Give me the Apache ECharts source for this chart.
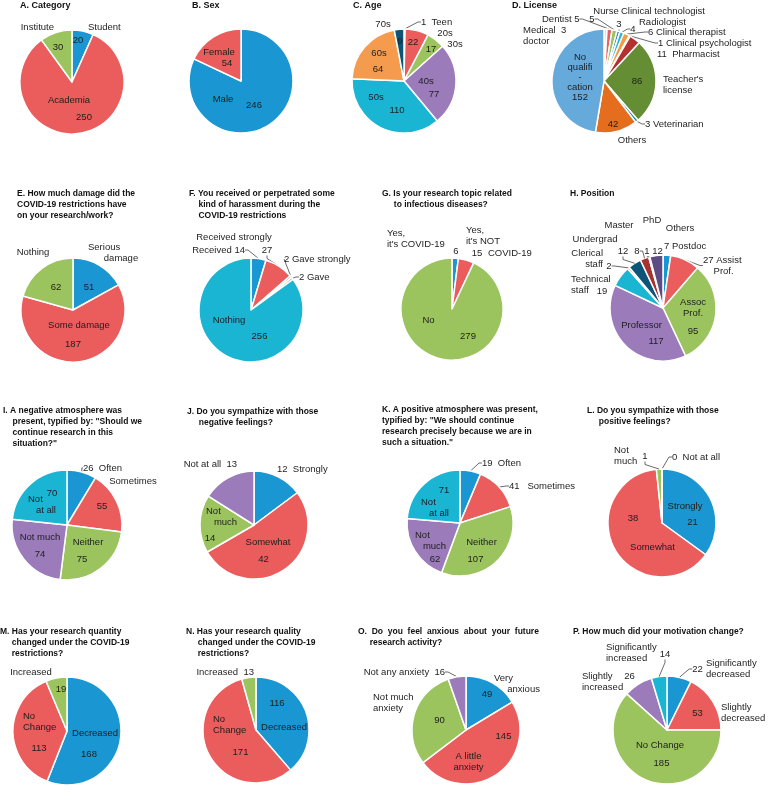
<!DOCTYPE html>
<html>
<head>
<meta charset="utf-8">
<script src="https://cdn.jsdelivr.net/npm/echarts@6/dist/echarts.min.js"></script>
<style>
  html, body { margin: 0; padding: 0; background: #fff; }
  #chart { width: 769px; height: 804px; }
</style>
</head>
<body>
<div id="chart"></div>
<script>
// survey answers, one pair of arrays per panel (clockwise from 12 o'clock)
const categoryNames = ['Student', 'Academia', 'Institute'];
const categoryCounts = [20, 250, 30];
const sexNames = ['Male', 'Female'];
const sexCounts = [246, 54];
const ageNames = ['Teen', '20s', '30s', '40s', '50s', '60s', '70s'];
const ageCounts = [1, 22, 17, 77, 110, 64, 9];
const licenseNames = ['Medical\ndoctor', 'Dentist', 'Nurse', 'Clinical technologist', 'Radiologist',
  'Clinical therapist', 'Clinical psychologist', 'Pharmacist', "Teacher's\nlicense", 'Veterinarian',
  'Others', 'No\nqualifi\n-\ncation'];
const licenseCounts = [3, 5, 5, 3, 4, 6, 1, 11, 86, 3, 42, 152];
const damageNames = ['Serious\ndamage', 'Some damage', 'Nothing'];
const damageCounts = [51, 187, 62];
const harassNames = ['Received', 'Received strongly', 'Gave strongly', 'Gave', 'Nothing'];
const harassCounts = [14, 27, 2, 2, 256];
const infectNames = ["Yes,\nit's COVID-19", "Yes,\nit's NOT\nCOVID-19", 'No'];
const infectCounts = [6, 15, 279];
const positionNames = ['Postdoc', 'Assist\nProf.', 'Assoc\nProf.', 'Professor', 'Technical\nstaff',
  'Clerical\nstaff', 'Undergrad', 'Master', 'PhD', 'Others'];
const positionCounts = [7, 27, 95, 117, 19, 2, 12, 8, 1, 12];
const negAtmosNames = ['Often', 'Sometimes', 'Neither', 'Not much', 'Not\nat all'];
const negAtmosCounts = [26, 55, 75, 74, 70];
const negSympNames = ['Strongly', 'Somewhat', 'Not\nmuch', 'Not at all'];
const negSympCounts = [12, 42, 14, 13];
const posAtmosNames = ['Often', 'Sometimes', 'Neither', 'Not\nmuch', 'Not\nat all'];
const posAtmosCounts = [19, 41, 107, 62, 71];
const posSympNames = ['Strongly', 'Somewhat', 'Not\nmuch', 'Not at all'];
const posSympCounts = [21, 38, 1, 0];
const quantityNames = ['Decreased', 'No\nChange', 'Increased'];
const quantityCounts = [168, 113, 19];
const qualityNames = ['Decreased', 'No\nChange', 'Increased'];
const qualityCounts = [116, 171, 13];
const anxietyNames = ['Very\nanxious', 'A little\nanxiety', 'Not much\nanxiety', 'Not any anxiety'];
const anxietyCounts = [49, 145, 90, 16];
const motivationNames = ['Significantly\ndecreased', 'Slightly\ndecreased', 'No Change',
  'Slightly\nincreased', 'Significantly\nincreased'];
const motivationCounts = [22, 53, 185, 26, 14];

const FONT = '"Liberation Sans", Arial, Helvetica, sans-serif';
const mainColors = ['#1a96d2', '#eb5c5c', '#9bc45e', '#9b7bb9', '#1bb5d4',
  '#f59b4e', '#0c5578', '#a83232', '#6a8c2e', '#5d4b84'];
const licenseColors = ['#cfe3f2', '#e8605e', '#9cc45c', '#3f84c8', '#2fb2cf', '#f39c48',
  '#e9e4f0', '#b5302e', '#648d34', '#1d7aa3', '#e46e1e', '#66a9db'];

// label layers: [dataIndex, template, dx from centre, dy from centre, align, leader line, lineHeight]
const panels = [
  { title: 'A. Category', tx: 20, ty: 0, big: true, names: categoryNames, values: categoryCounts,
    colors: mainColors, c: [72, 82], r: 52,
    layers: [
      [[0, '{c}', 6, -42], [1, '{b}', -3, 18], [2, '{c}', -14, -35]],
      [[0, '{b}', 16, -55, 'left'], [1, '{c}', 12, 35], [2, '{b}', -18, -55, 'right']]
    ] },
  { title: 'B. Sex', tx: 192, ty: 0, big: true, names: sexNames, values: sexCounts,
    colors: mainColors, c: [241, 81], r: 52,
    layers: [
      [[0, '{b}', -18, 18], [1, '{b}', -22, -29]],
      [[0, '{c}', 13, 24], [1, '{c}', -14, -18]]
    ] },
  { title: 'C. Age', tx: 353, ty: 0, big: true, names: ageNames, values: ageCounts,
    colors: mainColors, c: [404, 81], r: 52,
    layers: [
      [[0, '{c}  {b}', 17, -59, 'left', 1], [1, '{c}', 9, -39], [2, '{c}', 27, -32], [3, '{b}', 22, 0],
       [4, '{b}', -28, 16], [5, '{b}', -25, -28], [6, '{c}', -4, -40]],
      [[1, '{b}', 41, -48], [2, '{b}', 51, -37], [3, '{c}', 30, 13], [4, '{c}', -7, 29],
       [5, '{c}', -26, -12], [6, '{b}', -21, -57]]
    ] },
  { title: 'D. License', tx: 512, ty: 0, big: true, names: licenseNames, values: licenseCounts,
    colors: licenseColors, c: [604, 81], r: 52,
    layers: [
      [[0, '{b0}  {c}\n{b1}', -81, -45, 'left'], [1, '{b} {c}', -62, -62, 'left', 1],
       [2, '{c}', -12, -62, 'center', 1], [3, '{c}', 15, -57, 'center', 1], [4, '{c}', 29, -52, 'center', 1],
       [5, '{c} {b}', 44, -49, 'left', 1], [6, '{c} {b}', 54, -38, 'left', 1], [7, '{c}  {b}', 53, -27, 'left'],
       [8, '{c}', 33, 0], [9, '{c} {b}', 41, 43, 'left', 1], [10, '{c}', 9, 43],
       [11, '{b}\n{c}', -24, -4, 'center', 0, 10]],
      [[2, '{b}', 2, -70], [3, '{b}', 17, -70, 'left'], [4, '{b}', 35, -59, 'left'],
       [8, '{b}', 59, 4, 'left'], [10, '{b}', 28, 59]]
    ] },
  { title: 'E. How much damage did the\nCOVID-19 restrictions have\non your research/work?', tx: 17, ty: 188.5,
    names: damageNames, values: damageCounts, colors: mainColors, c: [73, 310], r: 52,
    layers: [
      [[0, '{c}', 16, -23], [1, '{b}', 6, 15], [2, '{c}', -17, -23]],
      [[0, '{b0}\n      {b1}', 15, -57.5, 'left'], [1, '{c}', 0, 34], [2, '{b}', -40, -58]]
    ] },
  { title: 'F. You received or perpetrated some\n    kind of harassment during the\n    COVID-19 restrictions',
    tx: 189, ty: 188.5, names: harassNames, values: harassCounts, colors: mainColors, c: [251, 310], r: 52,
    layers: [
      [[0, '{b} {c}', -6, -60, 'right', 1], [1, '{c}', 16, -60, 'center', 1], [2, '{c} {b}', 33, -51, 'left', 1],
       [3, '{c} {b}', 48, -33, 'left', 1], [4, '{b}', -22, 10]],
      [[1, '{b}', -17, -73], [4, '{c}', 8.5, 26]]
    ] },
  { title: 'G. Is your research topic related\n     to infectious diseases?', tx: 382, ty: 188.5,
    names: infectNames, values: infectCounts, colors: mainColors, c: [452, 309], r: 51,
    layers: [
      [[0, '{b}', -65, -70, 'left'], [1, '{b0}\n{b1}', 14, -73.5, 'left'], [2, '{b}', -23.5, 11]],
      [[0, '{c}', 4, -58], [1, '{c}', 25, -56], [2, '{c}', 16, 27]],
      [[1, '{b2}', 36, -56, 'left']]
    ] },
  { title: 'H. Position', tx: 570, ty: 188.5, names: positionNames, values: positionCounts,
    colors: mainColors, c: [663, 308], r: 53,
    layers: [
      [[0, '{c} {b}', 1, -62, 'left'], [1, '{c} {b0}\n    {b1}', 40, -42.5, 'left', 1], [2, '{b}', 30, -0.5],
       [3, '{b}', -21.5, 17], [4, '{b}', -92, -23.5, 'left'], [5, '{b}', -60, -49.5, 'right'],
       [6, '{b}', -68, -69], [7, '{b}', -44, -83], [8, '{b}', -11, -88], [9, '{b}', 17, -80]],
      [[2, '{c}', 30, 23], [3, '{c}', -7, 33], [4, '{c}', -61, -17], [5, '{c}', -54, -42, 'center', 1],
       [6, '{c}', -40, -57, 'center', 1], [7, '{c}', -26, -57, 'center', 1], [8, '{c}', -16, -57, 'center', 1],
       [9, '{c}', -5.5, -57]]
    ] },
  { title: 'I. A negative atmosphere was\n    present, typified by: "Should we\n    continue research in this\n    situation?"',
    tx: 3, ty: 405.5, names: negAtmosNames, values: negAtmosCounts, colors: mainColors, c: [67, 525], r: 55,
    layers: [
      [[0, '{c}  {b}', 16, -57, 'left', 1], [1, '{c}', 35, -19], [2, '{b}', 21, 17], [3, '{b}', -27, 12],
       [4, '{c}', -15, -32]],
      [[1, '{b}', 66, -44], [2, '{c}', 15, 34], [3, '{c}', -27, 29], [4, '{b0}\n   {b1}', -39, -20.5, 'left']]
    ] },
  { title: 'J. Do you sympathize with those\n     negative feelings?', tx: 187, ty: 406.5,
    names: negSympNames, values: negSympCounts, colors: mainColors, c: [254, 525], r: 54,
    layers: [
      [[0, '{c}  {b}', 23, -56, 'left'], [1, '{b}', 14, 17], [2, '{b0}\n   {b1}', -48, -8, 'left'],
       [3, '{b}  {c}', -17, -61, 'right']],
      [[1, '{c}', 9.5, 34], [2, '{c}', -44, 13]]
    ] },
  { title: 'K. A positive atmosphere was present,\ntypified by: "We should continue\nresearch precisely because we are in\nsuch a situation."',
    tx: 382, ty: 404.5, names: posAtmosNames, values: posAtmosCounts, colors: mainColors, c: [460, 523], r: 53,
    layers: [
      [[0, '{c}  {b}', 22, -60, 'left', 1], [1, '{c}   {b}', 49, -37, 'left', 1], [2, '{b}', 21.5, 19],
       [3, '{b0}\n   {b1}', -45, 18, 'left'], [4, '{c}', -16, -33]],
      [[2, '{c}', 15.5, 36], [3, '{c}', -25, 36], [4, '{b0}\n   {b1}', -39, -15.5, 'left']]
    ] },
  { title: 'L. Do you sympathize with those\n     positive feelings?', tx: 587, ty: 405.5,
    names: posSympNames, values: posSympCounts, colors: mainColors, c: [662, 523], r: 54,
    layers: [
      [[0, '{b}', 23, -17], [1, '{c}', -29, -5], [2, '{b0}\n{b1}', -48, -67, 'left'],
       [3, '{c}  {b}', 10, -66, 'left', 1]],
      [[0, '{c}', 30.5, -1], [1, '{b}', -9.5, 24], [2, '{c}', -17, -67, 'center', 1]]
    ] },
  { title: 'M. Has your research quantity\n     changed under the COVID-19\n     restrictions?', tx: 0, ty: 626.5,
    names: quantityNames, values: quantityCounts, colors: mainColors, c: [67, 731], r: 54,
    layers: [
      [[0, '{b}', 28, 2], [1, '{b}', -44, -9.5, 'left'], [2, '{b}', -36, -59]],
      [[0, '{c}', 22, 23], [1, '{c}', -28, 17], [2, '{c}', -6, -42]]
    ] },
  { title: 'N. Has your research quality\n     changed under the COVID-19\n     restrictions?', tx: 186, ty: 626.5,
    names: qualityNames, values: qualityCounts, colors: mainColors, c: [256, 730], r: 53,
    layers: [
      [[0, '{c}', 21, -27], [1, '{b}', -43, -5.5, 'left'], [2, '{b}  {c}', -2, -58, 'right']],
      [[0, '{b}', 28, -3], [1, '{c}', -15.5, 22]]
    ] },
  { title: 'O.  Do  you  feel  anxious  about  your  future\n     research activity?', tx: 358, ty: 626.5,
    names: anxietyNames, values: anxietyCounts, colors: mainColors, c: [466, 730], r: 54,
    layers: [
      [[0, '{b0}\n     {b1}', 28, -46.5, 'left'], [1, '{c}', 37.5, 6], [2, '{c}', -26.5, -10],
       [3, '{b}  {c}', -21, -58, 'right', 1]],
      [[0, '{c}', 21, -36], [1, '{b}', 2.5, 32], [2, '{b}', -93, -27, 'left']]
    ] },
  { title: 'P. How much did your motivation change?', tx: 573, ty: 626.5,
    names: motivationNames, values: motivationCounts, colors: mainColors, c: [667, 730], r: 54,
    layers: [
      [[0, '{c}', 30.5, -61, 'center', 1], [1, '{b}', 54, -17.5, 'left'], [2, '{b}', -7, 15],
       [3, '{b}', -85, -48, 'left'], [4, '{b}', -61, -77.5, 'left']],
      [[0, '{b}', 39, -61.5, 'left'], [1, '{c}', 30.5, -17], [2, '{c}', -5.5, 33], [3, '{c}', -37.5, -54],
       [4, '{c}', -2, -76, 'center', 1]]
    ] }
];

function labelText(tpl, name, value) {
  const lines = name.split('\n');
  return tpl.replace(/\{b(\d)\}/g, (m, k) => lines[+k] || '')
    .replace(/\{b\}/g, name)
    .replace(/\{c\}/g, String(value));
}

// one pie per layer: the first draws the slices, the rest are see-through and only carry labels
function pieSeries(p, specs, visible) {
  const byIdx = {};
  specs.forEach(s => { byIdx[s[0]] = s; });
  return {
    type: 'pie',
    center: p.c,
    radius: p.r,
    startAngle: 90,
    clockwise: true,
    avoidLabelOverlap: false,
    animation: false,
    silent: true,
    z: visible ? 2 : 3,
    itemStyle: visible
      ? { borderColor: '#fff', borderWidth: 1.5 }
      : { color: 'rgba(0,0,0,0)', borderWidth: 0 },
    emphasis: { disabled: true },
    data: p.names.map((name, i) => {
      const item = { name: name, value: p.values[i] };
      if (visible) item.itemStyle = { color: p.colors[i] };
      const s = byIdx[i];
      if (!s) {
        item.label = { show: false };
        item.labelLine = { show: false };
        return item;
      }
      const text = labelText(s[1], name, p.values[i]);
      item.label = {
        show: true,
        position: s[5] ? 'outside' : 'inside',
        formatter: () => text,
        color: '#1e1e1e',
        fontSize: 9.5,
        fontFamily: FONT,
        lineHeight: s[6] || 11,
        overflow: 'none',
        textBorderWidth: 0,
        textBorderColor: 'transparent',
        distanceToLabelLine: 1
      };
      item.labelLine = s[5]
        ? { show: true, length: 4, length2: 3, smooth: false, lineStyle: { color: '#444', width: 0.8 } }
        : { show: false };
      return item;
    }),
    labelLayout: params => {
      const s = byIdx[params.dataIndex];
      if (!s) return {};
      return {
        x: p.c[0] + s[2],
        y: p.c[1] + s[3],
        align: s[4] || 'center',
        verticalAlign: 'middle'
      };
    }
  };
}

const series = [];
panels.forEach(p => {
  p.layers.forEach((specs, k) => series.push(pieSeries(p, specs, k === 0)));
});

const chart = echarts.init(document.getElementById('chart'), null, { renderer: 'canvas' });
chart.setOption({
  backgroundColor: '#fff',
  animation: false,
  title: panels.map(p => ({
    text: p.title,
    left: p.tx,
    top: p.ty,
    padding: 0,
    textStyle: {
      fontSize: p.big ? 9 : 8.5,
      fontWeight: 'bold',
      lineHeight: 11,
      color: '#111',
      fontFamily: FONT
    }
  })),
  series: series
});
</script>
</body>
</html>
